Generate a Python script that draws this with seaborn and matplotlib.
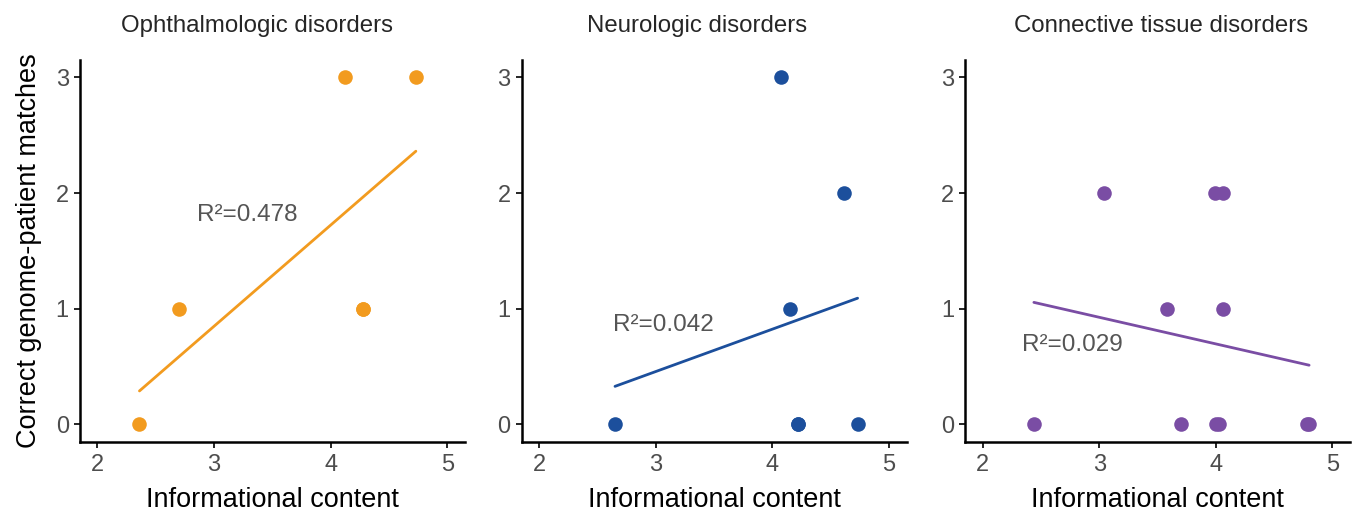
import pandas as pd
import matplotlib
matplotlib.use('Agg')
from matplotlib import pyplot as plt
import seaborn as sns

# values (overlapping dots listed twice)
oph_x = [2.36, 2.70, 4.12, 4.28, 4.28, 4.73]
oph_y = [0, 1, 3, 1, 1, 3]

neu_x = [2.65, 4.07, 4.61, 4.15, 4.22, 4.22, 4.73]
neu_y = [0, 3, 2, 1, 0, 0, 0]

con_x = [2.44, 3.04, 3.58, 3.70, 3.99, 4.06, 4.06, 4.00, 4.03, 4.78, 4.80]
con_y = [0, 2, 1, 0, 2, 2, 1, 0, 0, 0, 0]

titles = ['Ophthalmologic disorders', 'Neurologic disorders', 'Connective tissue disorders']
r2_labels = ['R\u00b2=0.478', 'R\u00b2=0.042', 'R\u00b2=0.029']
r2_pos = [(2.85, 1.81), (2.63, 0.86), (2.34, 0.69)]
colors = ['#F29B1F', '#1C4F9C', '#7A4DA4']
title_x = [0.46, 0.455, 0.51]

sns.set_style('ticks')
plt.rcParams['font.family'] = ['Liberation Sans', 'DejaVu Sans']

fig = plt.figure(figsize=(13.6, 5.2), dpi=100)
lefts = [0.0588, 0.3836, 0.7096]

data = [(oph_x, oph_y), (neu_x, neu_y), (con_x, con_y)]
for i, (xs, ys) in enumerate(data):
    ax = fig.add_axes([lefts[i], 0.1506, 0.283, 0.734])
    df = pd.DataFrame({'ic': xs, 'matches': ys})
    sns.regplot(x='ic', y='matches', data=df, ax=ax, ci=None, color=colors[i],
                scatter_kws={'s': 110, 'alpha': 1, 'linewidths': 0},
                line_kws={'lw': 2.0})
    ax.set_xlim(1.85, 5.15)
    ax.set_ylim(-0.15, 3.15)
    ax.set_xticks([2, 3, 4, 5])
    ax.set_yticks([0, 1, 2, 3])
    sns.despine(ax=ax)
    for s in ['left', 'bottom']:
        ax.spines[s].set_linewidth(1.8)
        ax.spines[s].set_color('black')
    ax.tick_params(length=4, width=1.2, color='black', labelsize=17, labelcolor='#4D4D4D')
    ax.tick_params(axis='x', pad=5)
    ax.tick_params(axis='y', pad=4)
    ax.set_xlabel('Informational content', fontsize=19.5, color='black', labelpad=8)
    if i == 0:
        ax.set_ylabel('Correct genome-patient matches', fontsize=19.5, color='black', labelpad=10)
    else:
        ax.set_ylabel('')
    ax.set_title(titles[i], fontsize=17.3, x=title_x[i], pad=20)
    ax.text(r2_pos[i][0], r2_pos[i][1], r2_labels[i], fontsize=17.5, color='#555555',
            ha='left', va='center')

fig.savefig('out.png', dpi=100)
